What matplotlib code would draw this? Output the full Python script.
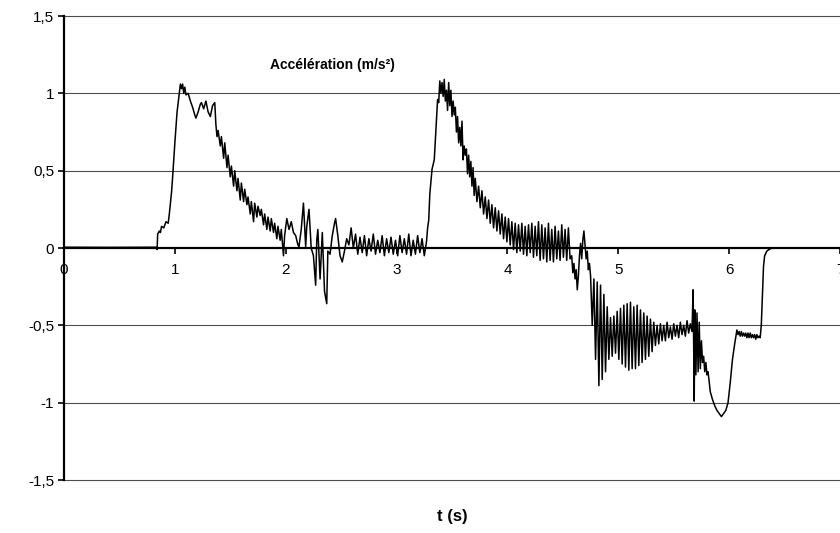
import matplotlib
matplotlib.use("Agg")
import matplotlib.pyplot as plt
import numpy as np

plt.rcParams['font.family'] = ['Liberation Sans', 'DejaVu Sans']

# --- signal, phase by phase (t in s, a in m/s²) ---
# rest, first rise and first peak
t_rise1 = [0.0, 0.40, 0.83, 0.84, 0.845, 0.86, 0.87, 0.88, 0.90, 0.92, 0.94, 0.95,
           0.97, 0.98, 1.00, 1.02, 1.04, 1.05, 1.06, 1.07, 1.08, 1.09, 1.10, 1.12,
           1.14, 1.16, 1.18, 1.19, 1.21, 1.23, 1.24, 1.26, 1.28, 1.30, 1.32, 1.34,
           1.36, 1.37]
a_rise1 = [0.005, 0.004, 0.005, -0.01, 0.09, 0.11, 0.10, 0.14, 0.13, 0.17, 0.16, 0.22,
           0.36, 0.46, 0.68, 0.88, 1.00, 1.06, 1.03, 1.06, 1.00, 1.04, 0.99, 1.00,
           0.95, 0.91, 0.86, 0.84, 0.88, 0.93, 0.94, 0.90, 0.95, 0.88, 0.85, 0.92,
           0.94, 0.80]

# noisy decay after the first peak
t_decay1 = [1.38, 1.39, 1.41, 1.42, 1.44, 1.45, 1.47, 1.48, 1.50, 1.51, 1.53, 1.54,
            1.56, 1.57, 1.59, 1.60, 1.62, 1.63, 1.65, 1.66, 1.68, 1.69, 1.71, 1.72,
            1.74, 1.75, 1.77, 1.78, 1.80, 1.81, 1.83, 1.84, 1.86, 1.87, 1.89, 1.90,
            1.92, 1.93, 1.95, 1.96, 1.98, 1.99, 2.01, 2.03, 2.05, 2.07, 2.09, 2.11,
            2.12, 2.14, 2.16, 2.18, 2.19, 2.21, 2.23]
a_decay1 = [0.72, 0.76, 0.66, 0.72, 0.58, 0.68, 0.52, 0.60, 0.46, 0.53, 0.40, 0.50,
            0.37, 0.45, 0.31, 0.42, 0.30, 0.38, 0.28, 0.33, 0.22, 0.30, 0.17, 0.29,
            0.20, 0.27, 0.21, 0.25, 0.15, 0.22, 0.12, 0.20, 0.11, 0.19, 0.10, 0.16,
            0.06, 0.14, 0.05, 0.12, -0.05, 0.08, 0.19, 0.12, 0.17, 0.10, 0.08, 0.02,
            0.01, 0.12, 0.29, 0.01, 0.14, 0.25, 0.00]

# disturbance around 2.3 s, then small ripple
t_ripple = [2.25, 2.27, 2.28, 2.29, 2.31, 2.32, 2.33, 2.35, 2.37, 2.38, 2.40, 2.42,
            2.44, 2.45, 2.47, 2.49, 2.51, 2.53, 2.55, 2.57, 2.59, 2.61,
            2.63, 2.65, 2.67, 2.69, 2.71, 2.73, 2.75, 2.77, 2.79, 2.81, 2.83, 2.85,
            2.87, 2.89, 2.91, 2.93, 2.95, 2.97, 2.99, 3.01, 3.03, 3.05, 3.07, 3.09,
            3.11, 3.13, 3.15, 3.17, 3.19, 3.21, 3.23, 3.25]
a_ripple = [-0.05, -0.24, 0.05, 0.12, -0.20, -0.05, 0.10, -0.28, -0.36, -0.02, -0.04, 0.08,
            0.16, 0.19, 0.08, -0.05, -0.09, -0.02, 0.06, 0.02, 0.13, 0.00,
            0.09, -0.04, 0.07, -0.03, 0.08, -0.05, 0.06, -0.02, 0.09, -0.04, 0.05, -0.03,
            0.08, -0.05, 0.06, -0.03, 0.07, -0.04, 0.05, -0.05, 0.08, -0.03, 0.06, -0.04,
            0.09, -0.05, 0.05, -0.04, 0.08, -0.03, 0.06, -0.05]

# second rise and second peak
t_rise2 = [3.27, 3.28, 3.29, 3.30, 3.32, 3.34, 3.36, 3.37, 3.38, 3.39, 3.40, 3.41,
           3.42, 3.43, 3.44, 3.45, 3.46, 3.47, 3.48, 3.49, 3.50, 3.51, 3.52, 3.53,
           3.54, 3.55, 3.56, 3.57, 3.58, 3.59, 3.60, 3.61, 3.62, 3.63, 3.64, 3.65,
           3.66, 3.67, 3.68, 3.69, 3.70, 3.71]
a_rise2 = [0.04, 0.13, 0.18, 0.35, 0.51, 0.57, 0.83, 0.96, 0.94, 1.08, 1.00, 1.07,
           0.98, 1.09, 0.95, 1.02, 0.89, 1.07, 0.92, 1.02, 0.85, 0.95, 0.86, 0.91,
           0.75, 0.85, 0.68, 0.78, 0.66, 0.82, 0.57, 0.66, 0.60, 0.64, 0.48, 0.60,
           0.46, 0.56, 0.40, 0.52, 0.34, 0.45]

# decaying oscillation after the second peak
t_decay2 = [3.725, 3.74, 3.755, 3.77, 3.785, 3.80, 3.815, 3.83, 3.845, 3.86, 3.875, 3.89,
            3.905, 3.92, 3.935, 3.95, 3.965, 3.98, 3.995, 4.01, 4.025, 4.04, 4.055, 4.07,
            4.085, 4.10, 4.115, 4.13, 4.145, 4.16, 4.175, 4.19, 4.205, 4.22, 4.235, 4.25,
            4.265, 4.28, 4.295, 4.31, 4.325, 4.34, 4.355, 4.37, 4.385, 4.40, 4.415, 4.43,
            4.445, 4.46, 4.475, 4.49, 4.505, 4.52, 4.535, 4.55, 4.565]
a_decay2 = [0.30, 0.40, 0.26, 0.37, 0.22, 0.33, 0.19, 0.31, 0.16, 0.28, 0.13, 0.26,
            0.11, 0.24, 0.09, 0.22, 0.06, 0.20, 0.04, 0.19, 0.02, 0.17, -0.01, 0.16,
            -0.03, 0.15, -0.02, 0.16, -0.04, 0.14, -0.05, 0.15, -0.03, 0.16, -0.06, 0.14,
            -0.05, 0.17, -0.08, 0.15, -0.07, 0.13, -0.09, 0.16, -0.08, 0.12, -0.09, 0.14,
            -0.07, 0.11, -0.08, 0.15, -0.06, 0.12, -0.08, 0.13, -0.07]

# transition towards braking
t_trans = [4.58, 4.59, 4.60, 4.61, 4.62, 4.63, 4.64, 4.65, 4.66, 4.67, 4.68, 4.69,
           4.70, 4.71, 4.72, 4.73, 4.74, 4.75]
a_trans = [-0.05, -0.16, -0.10, -0.20, -0.14, -0.27, -0.18, -0.05, 0.03, -0.07, 0.05, 0.11,
           0.02, -0.07, -0.02, -0.14, -0.10, -0.18]

# large oscillation while braking
t_brake = [4.765, 4.78, 4.795, 4.81, 4.825, 4.84, 4.855, 4.87, 4.885, 4.90, 4.915, 4.93,
           4.945, 4.96, 4.975, 4.99, 5.005, 5.02, 5.035, 5.05, 5.065, 5.08, 5.095, 5.11,
           5.125, 5.14, 5.155, 5.17, 5.185, 5.20, 5.215, 5.23, 5.245, 5.26, 5.275, 5.29,
           5.305, 5.32, 5.335, 5.35]
a_brake = [-0.50, -0.20, -0.72, -0.22, -0.89, -0.24, -0.85, -0.30, -0.80, -0.38, -0.72, -0.45,
           -0.70, -0.44, -0.68, -0.41, -0.72, -0.39, -0.75, -0.37, -0.77, -0.36, -0.79, -0.35,
           -0.78, -0.38, -0.78, -0.37, -0.76, -0.40, -0.74, -0.42, -0.72, -0.44, -0.70, -0.46,
           -0.67, -0.48, -0.63, -0.50]

t_settle = [5.365, 5.38, 5.395, 5.41, 5.425, 5.44, 5.455, 5.47, 5.485, 5.50, 5.515, 5.53,
            5.545, 5.56, 5.575, 5.59, 5.605, 5.62, 5.635, 5.65, 5.665]
a_settle = [-0.62, -0.49, -0.60, -0.50, -0.60, -0.48, -0.58, -0.51, -0.59, -0.49, -0.57, -0.50,
            -0.58, -0.48, -0.56, -0.50, -0.57, -0.47, -0.55, -0.49, -0.54]

# spike, dip to -1.1, plateau, return to rest
t_dip = [5.675, 5.685, 5.69, 5.70, 5.71, 5.72, 5.73, 5.74, 5.75, 5.76, 5.77, 5.78,
         5.79, 5.80, 5.81, 5.83, 5.85, 5.87, 5.89, 5.91, 5.93, 5.95, 5.97, 5.99,
         6.01, 6.03, 6.05]
a_dip = [-0.27, -0.99, -0.40, -0.82, -0.42, -0.80, -0.48, -0.78, -0.60, -0.74, -0.70, -0.80,
         -0.74, -0.82, -0.80, -0.93, -0.98, -1.02, -1.05, -1.07, -1.09, -1.07, -1.05, -1.00,
         -0.87, -0.72, -0.62]

t_plateau = [6.07, 6.08, 6.09, 6.10, 6.11, 6.12, 6.13, 6.14, 6.15, 6.16, 6.17, 6.18,
             6.19, 6.20, 6.21, 6.22, 6.23, 6.24, 6.25, 6.26, 6.27, 6.28]
a_plateau = [-0.53, -0.56, -0.54, -0.57, -0.54, -0.57, -0.55, -0.57, -0.55, -0.58, -0.55, -0.58,
             -0.55, -0.58, -0.56, -0.58, -0.56, -0.59, -0.56, -0.58, -0.57, -0.58]

t_end = [6.29, 6.30, 6.31, 6.32, 6.34, 6.37, 6.40, 7.0]
a_end = [-0.50, -0.30, -0.12, -0.05, -0.02, -0.005, 0.0, 0.0]

t = np.concatenate([t_rise1, t_decay1, t_ripple, t_rise2, t_decay2, t_trans,
                    t_brake, t_settle, t_dip, t_plateau, t_end])
acc = np.concatenate([a_rise1, a_decay1, a_ripple, a_rise2, a_decay2, a_trans,
                      a_brake, a_settle, a_dip, a_plateau, a_end])

y_ticks = [-1.5, -1, -0.5, 0, 0.5, 1, 1.5]
y_labels = ['-1,5', '-1', '-0,5', '0', '0,5', '1', '1,5']
x_ticks = [0, 1, 2, 3, 4, 5, 6, 7]

fig = plt.figure(figsize=(8.4, 5.33), dpi=100)
ax = fig.add_axes([64 / 840, 1 - 480 / 533, 1 - 64 / 840, (480 - 16) / 533])

for yv in y_ticks:
    if yv != 0:
        ax.axhline(yv, color='0.3', lw=0.8, zorder=1, clip_on=False)

ax.plot(t, acc, color='black', lw=1.1, zorder=3)

ax.set_xlim(0, 7)
ax.set_ylim(-1.5, 1.5)
ax.spines['top'].set_visible(False)
ax.spines['right'].set_visible(False)
ax.spines['bottom'].set_position(('data', 0))
ax.spines['bottom'].set_linewidth(1.6)
ax.spines['left'].set_linewidth(1.6)
ax.spines['bottom'].set_zorder(4)

ax.set_yticks(y_ticks)
ax.set_yticklabels(y_labels)
ax.set_xticks(x_ticks)
ax.tick_params(axis='both', labelsize=11, length=4, width=1.2, direction='out', color='black')
ax.tick_params(axis='y', pad=3)
ax.tick_params(axis='x', pad=7)

ax.text(2.42, 1.18, 'Accélération (m/s²)', fontsize=10, fontweight='bold',
        ha='center', va='center')
fig.text(452 / 840, 1 - 517 / 533, 't (s)', fontsize=12, fontweight='bold',
         ha='center', va='center')

fig.savefig('out.png', dpi=100)
